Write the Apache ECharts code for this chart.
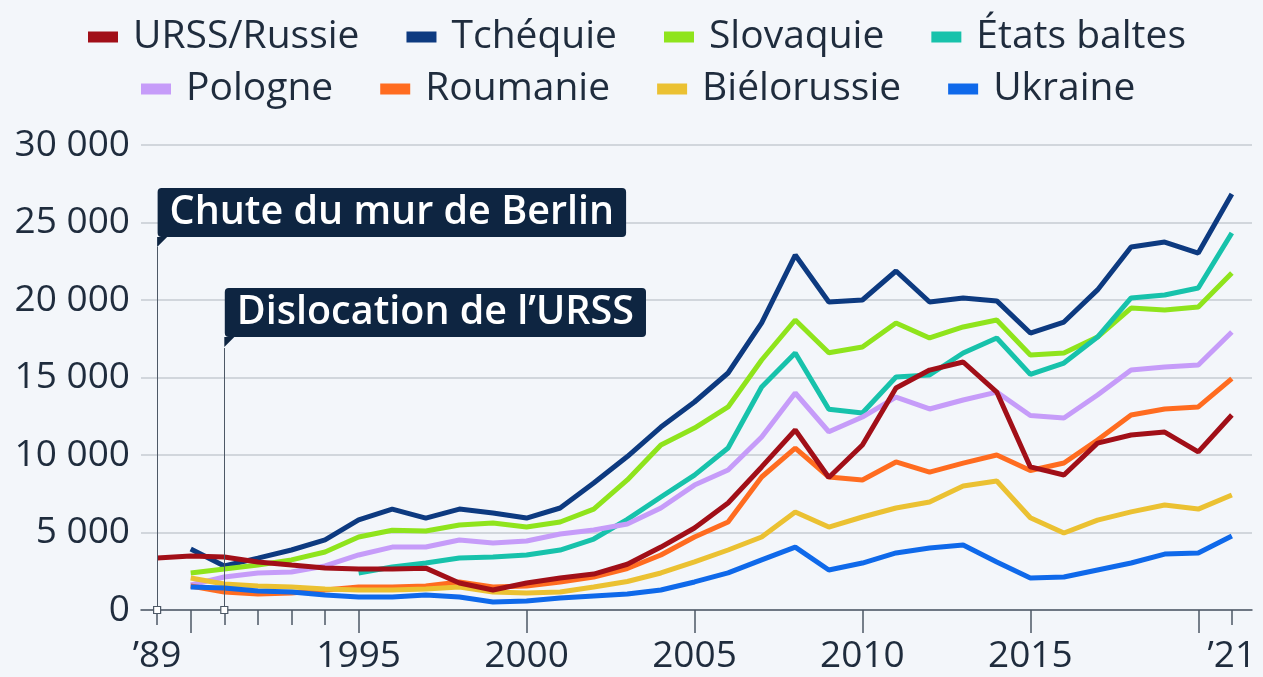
<!DOCTYPE html>
<html>
<head>
<meta charset="utf-8">
<script src="https://cdn.jsdelivr.net/npm/echarts@6/dist/echarts.min.js"></script>
<style>
html,body{margin:0;padding:0;background:#f3f6fa;}
#c{width:1263px;height:677px;}
</style>
</head>
<body>
<div id="c"></div>
<script>
const years = [];
for (let y = 1989; y <= 2021; y++) years.push(y);

const seriesNames = ['URSS/Russie','Tchéquie','Slovaquie','États baltes','Pologne','Roumanie','Biélorussie','Ukraine'];
const seriesColors = ['#a10f18','#0d3a80','#8fe41c','#17c2ab','#c69cf9','#ff6c20','#ebc132','#0f69ea'];

const russie = [3350,3480,3420,3100,2900,2710,2640,2640,2700,1740,
  1290,1740,2060,2320,2950,4060,5290,6900,9230,11610,
  8550,10650,14320,15480,16000,14060,9230,8710,10770,11290,
  11480,10200,12580];
const tchequie = [null,3940,2840,3350,3870,4520,5810,6510,5930,6510,
  6260,5930,6580,8190,9900,11800,13420,15290,18520,22900,
  19870,20000,21870,19870,20130,19940,17870,18580,20650,23420,
  23740,23030,26840];
const slovaquie = [null,2390,2640,2900,3230,3740,4710,5150,5100,5480,
  5610,5350,5680,6510,8390,10650,11740,13100,16130,18710,
  16600,16970,18520,17550,18260,18710,16450,16580,17610,19480,
  19350,19550,21740];
const baltes = [null,null,null,null,null,null,2390,2770,3030,3350,
  3420,3550,3870,4580,5850,7290,8700,10450,14390,16580,
  12950,12710,15030,15160,16580,17550,15200,15930,17610,20130,
  20320,20770,24320];
const pologne = [null,1610,2130,2390,2450,2840,3550,4060,4060,4520,
  4320,4450,4900,5160,5550,6580,8060,9030,11160,14000,
  11500,12450,13740,12970,13550,14060,12550,12390,13870,15480,
  15680,15810,17940];
const roumanie = [null,1550,1160,1030,1100,1290,1480,1480,1550,1810,
  1480,1550,1810,2130,2680,3550,4710,5680,8580,10450,
  8580,8390,9550,8900,9480,10000,9000,9480,10970,12580,
  12970,13100,14930];
const bielorussie = [null,2060,1680,1550,1480,1350,1290,1290,1350,1480,
  1160,1100,1160,1480,1840,2390,3100,3870,4710,6320,
  5350,6000,6580,6970,8000,8320,5950,4970,5800,6330,
  6770,6510,7420];
const ukraine = [null,1480,1420,1230,1160,970,840,840,970,840,
  520,580,770,900,1030,1290,1810,2390,3230,4060,
  2580,3030,3680,4000,4190,3100,2060,2130,2580,3030,
  3610,3680,4770];

const allValues = [russie,tchequie,slovaquie,baltes,pologne,roumanie,bielorussie,ukraine];

const xLabelYears = [1989,1995,2000,2005,2010,2015,2021];
const xLabelTexts = ['’89','1995','2000','2005','2010','2015','’21'];
const xLongTicks = [1990,1995,2000,2005,2010,2015,2020];
const xShortTicks = [1989,1991,1992,1993,1994,2021];

const annotYears = [1989,1991];
const annotTexts = ['Chute du mur de Berlin','Dislocation de l’URSS'];
const annotBoxValues = [25650,19200];
const annotTailValues = [23740,17290];
const annotLineTops = [23420,16900];

const textColor = '#1f2c3d';
const axisColor = '#4d5866';
const boxColor = '#0e2541';
const FONT = '"Open Sans", "Noto Sans", sans-serif';

const lineSeries = seriesNames.map((n,i)=>({
  name:n, type:'line', showSymbol:false, symbol:'none',
  data: years.map((y,j)=>[y, allValues[i][j]]),
  lineStyle:{width:5, color:seriesColors[i]},
  itemStyle:{color:seriesColors[i]},
  z: i===0 ? 4 : 3,
  connectNulls:false,
  emphasis:{disabled:true}
}));

const annotSeries = {
  type:'scatter', name:'annot', z:6, silent:true, clip:false,
  itemStyle:{opacity:1},
  emphasis:{disabled:true},
  data: [].concat(
    annotYears.map((y,i)=>({
      value:[y, annotBoxValues[i]], symbolSize:1,
      itemStyle:{color:'rgba(0,0,0,0)', opacity:1},
      label:{show:true, position:'right', distance:0, formatter: annotTexts[i],
        backgroundColor:boxColor, color:'#ffffff', fontFamily:FONT, fontSize:39.5, fontWeight:600,
        lineHeight:37, padding:[6,12,6,12], borderRadius:4, opacity:1}
    })),
    annotYears.map((y,i)=>({
      value:[y, annotTailValues[i]], symbol:'path://M0 0L10 0L0 10Z', symbolSize:[10,10],
      symbolOffset:[5,0], itemStyle:{color:boxColor, opacity:1}
    })),
    annotYears.map((y)=>({
      value:[y, 0], symbol:'rect', symbolSize:7,
      itemStyle:{color:'#ffffff', borderColor:axisColor, borderWidth:1.2, opacity:1}, z:8
    }))
  ),
  markLine:{
    silent:true, symbol:['none','none'], label:{show:false},
    lineStyle:{color:axisColor, width:1, type:'solid', opacity:1},
    data: annotYears.map((y,i)=>[{coord:[y,0]},{coord:[y,annotLineTops[i]]}])
  }
};

const legendBase = {
  icon:'rect', itemWidth:30, itemHeight:11, itemGap:47, padding:0,
  selectedMode:false,
  textStyle:{fontFamily:FONT, fontSize:39, color:textColor, padding:[0,0,0,10], lineHeight:40}
};

const chart = echarts.init(document.getElementById('c'), null, {renderer:'canvas'});
chart.setOption({
  backgroundColor:'#f3f6fa',
  animation:false,
  textStyle:{fontFamily:FONT},
  legend:[
    Object.assign({}, legendBase, {left:88, top:17, data:seriesNames.slice(0,4)}),
    Object.assign({}, legendBase, {left:141, top:69, data:seriesNames.slice(4)})
  ],
  grid:{left:141, right:11, top:145, bottom:67, containLabel:false},
  xAxis:[{
    type:'value', min:1988.52, max:2021.6,
    axisLine:{show:true, lineStyle:{color:axisColor, width:1.5}},
    axisTick:{show:true, length:23, lineStyle:{color:axisColor, width:1.5}, customValues:xLongTicks},
    axisLabel:{show:true, customValues:xLabelYears, fontFamily:FONT, fontSize:37, color:textColor, margin:28,
      formatter:(v)=>{const k = xLabelYears.indexOf(Math.round(v)); return k>=0 ? xLabelTexts[k] : '';}},
    splitLine:{show:false}
  },{
    type:'value', min:1988.52, max:2021.6, position:'bottom',
    axisLine:{show:false},
    axisTick:{show:true, length:15, lineStyle:{color:axisColor, width:1.5}, customValues:xShortTicks},
    axisLabel:{show:false},
    splitLine:{show:false}
  }],
  yAxis:{
    type:'value', min:0, max:30000, interval:5000,
    axisLine:{show:false}, axisTick:{show:false},
    axisLabel:{fontFamily:FONT, fontSize:37, color:textColor, margin:11,
      formatter:(v)=> v===0 ? '0' : String(v).replace(/\B(?=(\d{3})+(?!\d))/g,' ')},
    splitLine:{lineStyle:{color:'#c6cbd2', width:1.5}}
  },
  series: lineSeries.concat([annotSeries])
});
</script>
</body>
</html>
